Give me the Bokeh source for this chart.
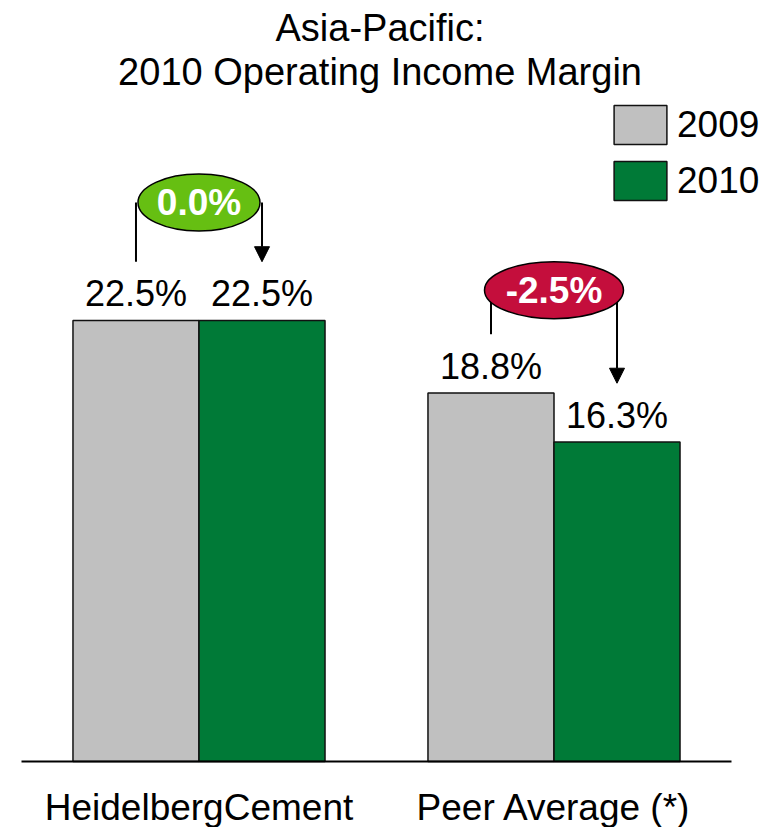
from bokeh.plotting import figure
from bokeh.models import Range1d, Legend, LegendItem, Arrow, NormalHead, Label, ColumnDataSource
from bokeh.core.properties import value
from bokeh.embed import file_html
from bokeh.resources import INLINE

# ---- data ----
categories = ["HeidelbergCement", "Peer Average (*)"]
years = ["2009", "2010"]
v2009 = [22.5, 18.8]
v2010 = [22.5, 16.3]
title_lines = ["Asia-Pacific:", "2010 Operating Income Margin"]

# ---- layout / style ----
FONT = "Liberation Sans"
GRAY = "#C0C0C0"
GREEN = "#007A37"
POS_COL = "#66BF12"
NEG_COL = "#C40E3C"
group_x = [1.0, 2.0]
BAR_W = 0.355
ell_y = [28.52, 24.05]      # ellipse centres (data y)
ell_w = [122, 139]          # ellipse widths (px)
LINE_GAP = 3.0              # bracket line end above bar value

x09 = [g - BAR_W / 2 for g in group_x]
x10 = [g + BAR_W / 2 for g in group_x]
delta = [b - a for a, b in zip(v2009, v2010)]
delta_txt = [f"{d:.1f}%".replace("-0.0", "0.0") for d in delta]
delta_col = [POS_COL if d >= 0 else NEG_COL for d in delta]

p = figure(width=778, height=827,
           x_range=Range1d(0.44085, 2.6324), y_range=Range1d(-3.367, 38.827),
           output_backend="svg", toolbar_location=None, min_border=0,
           x_axis_location=None, y_axis_location=None,
           outline_line_color=None, background_fill_color="white",
           border_fill_color="white")
p.grid.visible = False

src09 = ColumnDataSource(dict(x=x09, top=v2009, lab=[f"{v:.1f}%" for v in v2009]))
src10 = ColumnDataSource(dict(x=x10, top=v2010, lab=[f"{v:.1f}%" for v in v2010]))

r09 = p.vbar(x="x", top="top", bottom=0, width=BAR_W, source=src09,
             fill_color=GRAY, line_color="#111111", line_width=1.5)
r10 = p.vbar(x="x", top="top", bottom=0, width=BAR_W, source=src10,
             fill_color=GREEN, line_color="#111111", line_width=1.5)

# baseline
p.segment(x0=[group_x[0] - 0.5], y0=[0], x1=[group_x[-1] + 0.5], y1=[0],
          line_color="black", line_width=2)

# value labels
for s in (src09, src10):
    p.text(x="x", y="top", text="lab", source=s, text_align="center",
           text_baseline="middle", y_offset=-27,
           text_font=value(FONT), text_font_size="36px", text_color="black")

# category labels
p.text(x=group_x, y=[0, 0], text=categories, text_align="center",
       text_baseline="middle", y_offset=46,
       text_font=value(FONT), text_font_size="37px", text_color="black")

# bracket lines and arrows
p.segment(x0=x09, y0=[v + LINE_GAP for v in v2009], x1=x09, y1=ell_y,
          line_color="black", line_width=2)
for i in range(len(categories)):
    p.add_layout(Arrow(end=NormalHead(size=15, fill_color="black", line_color="black", line_width=1),
                       x_start=x10[i], y_start=ell_y[i], x_end=x10[i], y_end=v2010[i] + LINE_GAP,
                       line_color="black", line_width=2))

# change ellipses
p.ellipse(x=group_x, y=ell_y, width=ell_w, height=57, width_units="screen",
          height_units="screen", fill_color=delta_col, line_color="black",
          line_width=1.5, level="overlay")
p.text(x=group_x, y=ell_y, text=delta_txt, text_align="center",
       text_baseline="middle", y_offset=0, text_font=value(FONT),
       text_font_size="37px", text_font_style="bold", text_color="white",
       level="overlay")

# title
p.add_layout(Label(x=1.51, y=37.42, text=title_lines[0], text_align="center",
                   text_baseline="middle", text_font=FONT, text_font_size="38px",
                   text_color="black"))
p.add_layout(Label(x=1.51, y=35.18, text=title_lines[1], text_align="center",
                   text_baseline="middle", text_font=FONT, text_font_size="38px",
                   text_color="black"))

# legend
legend = Legend(items=[LegendItem(label=years[0], renderers=[r09]),
                       LegendItem(label=years[1], renderers=[r10])],
                location=(607, 622), orientation="vertical",
                glyph_width=66, glyph_height=49, label_height=49, spacing=7,
                label_standoff=4, padding=0, margin=0, border_line_color=None,
                background_fill_alpha=0, label_text_font=FONT,
                label_text_font_size="37px", label_text_color="black")
p.add_layout(legend)

open("out.html", "w").write(file_html(p, INLINE))
